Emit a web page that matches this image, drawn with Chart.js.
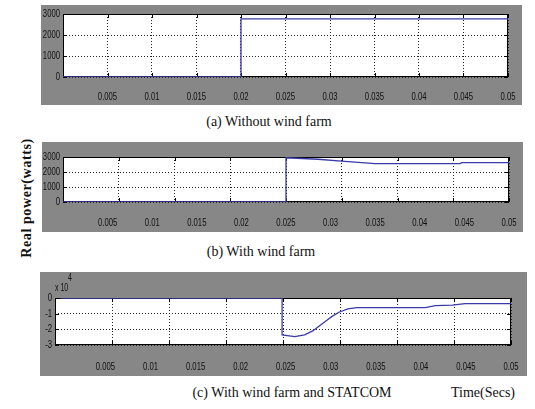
<!DOCTYPE html>
<html>
<head>
<meta charset="utf-8">
<script src="https://cdn.jsdelivr.net/npm/chart.js@4.4.1/dist/chart.umd.min.js"></script>
<style>
  body { margin: 0; width: 535px; height: 409px; background: #fff; position: relative; overflow: hidden;
         font-family: 'Liberation Serif', 'Times New Roman', serif; color: #111; }
  .panel { position: absolute; background: #878787; }
  .cap { position: absolute; font-size: 14px; white-space: nowrap; transform: translate(-50%, -50%); }
  #ytitle { position: absolute; left: 27px; top: 198px; font-weight: bold; font-size: 14px; letter-spacing: 0.6px;
            white-space: nowrap; transform: translate(-50%, -50%) rotate(-90deg); }
</style>
</head>
<body>
<div class="panel" style="left:41px;top:5px;width:481px;height:100px"><canvas id="chartA"></canvas></div>
<div class="panel" style="left:42px;top:142px;width:481px;height:90px"><canvas id="chartB"></canvas></div>
<div class="panel" style="left:40px;top:272px;width:487px;height:104px"><canvas id="chartC"></canvas></div>

<div class="cap" style="left:269px;top:122px">(a) Without wind farm</div>
<div class="cap" style="left:261px;top:252px">(b) With wind farm</div>
<div class="cap" style="left:292px;top:393px">(c) With wind farm and STATCOM</div>
<div class="cap" style="left:483px;top:393px">Time(Secs)</div>
<div id="ytitle">Real power(watts)</div>

<script>
// values (time in s, power in W)
const timeA = [0, 0.02, 0.02, 0.05];
const powerA = [0, 0, 2770, 2770];

const timeB = [0, 0.025, 0.025, 0.0286, 0.0312, 0.035, 0.0445, 0.0447, 0.05];
const powerB = [0, 0, 2950, 2850, 2730, 2560, 2560, 2620, 2620];

const timeC = [0, 0.0246, 0.0246, 0.026, 0.0271, 0.028, 0.0288, 0.0295, 0.0301, 0.0309, 0.0319, 0.0329,
               0.0405, 0.0416, 0.0435, 0.0449, 0.05];
const powerC = [0, 0, -23600, -24700, -23500, -21000, -17500, -14500, -11900, -9100, -7000, -6200,
                -6200, -4900, -4500, -3600, -3600];

const timeLabels = [0.005, 0.01, 0.015, 0.02, 0.025, 0.03, 0.035, 0.04, 0.045, 0.05];
const powerTicksAB = [0, 1000, 2000, 3000];
const powerTicksC = [-30000, -20000, -10000, 0];

const labelFont = "11px 'Liberation Sans', Arial, sans-serif";
const lineColor = '#3a3aa8';

// squeezed text, like the narrow labels of the old MATLAB figure
function narrowText(ctx, text, x, y, align) {
    ctx.save();
    ctx.translate(x, y);
    ctx.scale(0.7, 1);
    ctx.textAlign = align;
    ctx.fillText(text, 0, 0);
    ctx.restore();
}

// white plot area, black frame, inward tick marks, tick labels, x10^n label
const framePlugin = {
    id: 'frame',
    beforeDraw(chart) {
        const { ctx, chartArea: a } = chart;
        ctx.save();
        ctx.fillStyle = '#fff';
        ctx.fillRect(a.left, a.top, a.right - a.left, a.bottom - a.top);
        ctx.restore();
    },
    beforeDatasetsDraw(chart, args, opts) {
        const { ctx, chartArea: a } = chart;
        const gx = chart.scales[opts.gridAxis || 'x'];
        const gy = chart.scales.y;
        ctx.save();
        ctx.strokeStyle = '#000';
        ctx.lineWidth = 1;
        ctx.beginPath();
        gx.ticks.forEach((t, i) => {
            const px = Math.round(gx.getPixelForTick(i)) + 0.5;
            ctx.moveTo(px, a.top); ctx.lineTo(px, a.top + 4);
            ctx.moveTo(px, a.bottom); ctx.lineTo(px, a.bottom - 4);
        });
        gy.ticks.forEach((t, i) => {
            const py = Math.round(gy.getPixelForTick(i)) + 0.5;
            ctx.moveTo(a.left, py); ctx.lineTo(a.left + 4, py);
            ctx.moveTo(a.right, py); ctx.lineTo(a.right - 4, py);
        });
        ctx.stroke();
        ctx.strokeRect(Math.round(a.left) + 0.5, Math.round(a.top) + 0.5,
                       Math.round(a.right - a.left) - 1, Math.round(a.bottom - a.top) - 1);
        ctx.restore();
    },
    afterDraw(chart, args, opts) {
        const { ctx, chartArea: a } = chart;
        const sx = chart.scales.x;
        const sy = chart.scales.y;
        ctx.save();
        ctx.fillStyle = '#111';
        ctx.font = labelFont;
        ctx.textBaseline = 'middle';
        sx.ticks.forEach(t => {
            narrowText(ctx, String(t.value), sx.getPixelForValue(t.value), a.bottom + opts.labelGap, 'center');
        });
        sy.ticks.forEach(t => {
            narrowText(ctx, String(t.value / opts.yScale), a.left - 3, sy.getPixelForValue(t.value), 'right');
        });
        if (opts.exponent) {
            ctx.font = "10px 'Liberation Sans', Arial, sans-serif";
            narrowText(ctx, 'x 10', a.left, a.top - 10, 'left');
            narrowText(ctx, opts.exponent, a.left + 13, a.top - 20, 'left');
        }
        ctx.restore();
    }
};

function renderPanel(canvasId, times, powers, o) {
    const ctx = document.getElementById(canvasId).getContext('2d');
    const scales = {
        x: {
            type: 'linear', position: 'bottom', min: o.xMin, max: o.xMax,
            afterBuildTicks: s => { s.ticks = timeLabels.map(v => ({ value: v })); },
            afterFit: s => { s.height = o.bottom; },
            grid: { display: !o.gridSteps, color: '#222', lineWidth: 1, drawTicks: false },
            border: { display: false, dash: [1, 2] },
            ticks: { display: false }
        },
        y: {
            type: 'linear', min: o.yTicks[0], max: o.yTicks[o.yTicks.length - 1],
            afterBuildTicks: s => { s.ticks = o.yTicks.map(v => ({ value: v })); },
            afterFit: s => { s.width = o.left; },
            grid: { color: '#222', lineWidth: 1, drawTicks: false },
            border: { display: false, dash: [1, 2] },
            ticks: { display: false }
        }
    };
    if (o.gridSteps) {
        scales.xg = {
            type: 'linear', position: 'top', min: 0, max: o.gridSteps,
            ticks: { display: false, stepSize: 1 },
            afterFit: s => { s.height = 0; },
            grid: { color: '#222', lineWidth: 1, drawTicks: false },
            border: { display: false, dash: [1, 2] }
        };
    }
    new Chart(ctx, {
        type: 'line',
        data: {
            datasets: [{
                data: times.map((t, i) => ({ x: t, y: powers[i] })),
                borderColor: lineColor,
                borderWidth: 1.3,
                pointRadius: 0,
                tension: 0,
                xAxisID: 'x',
                yAxisID: 'y'
            }]
        },
        options: {
            responsive: true,
            maintainAspectRatio: false,
            animation: false,
            layout: { padding: { left: 0, top: o.top, right: o.right, bottom: 0 } },
            scales: scales,
            plugins: {
                legend: { display: false },
                tooltip: { enabled: false },
                frame: { gridAxis: o.gridSteps ? 'xg' : 'x', exponent: o.exponent,
                         labelGap: o.labelGap, yScale: o.yScale }
            }
        },
        plugins: [framePlugin]
    });
}

renderPanel('chartA', timeA, powerA, {
    xMin: 0, xMax: 0.05, yTicks: powerTicksAB, yScale: 1,
    left: 22, top: 9, right: 14, bottom: 28, labelGap: 20
});
renderPanel('chartB', timeB, powerB, {
    xMin: 0, xMax: 0.05, gridSteps: 8, yTicks: powerTicksAB, yScale: 1,
    left: 21, top: 15, right: 14, bottom: 30, labelGap: 21
});
renderPanel('chartC', timeC, powerC, {
    xMin: -0.0006, xMax: 0.05, gridSteps: 8, yTicks: powerTicksC, yScale: 10000, exponent: '4',
    left: 15, top: 26, right: 16, bottom: 31, labelGap: 22
});
</script>
</body>
</html>
